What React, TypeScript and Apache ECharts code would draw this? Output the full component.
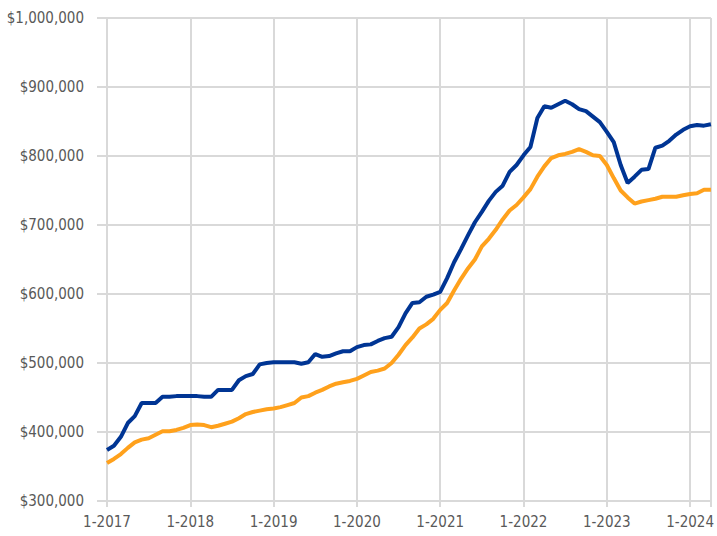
import React, { useEffect, useRef } from "react";
import * as echarts from "echarts";

const years = [2017, 2018, 2019, 2020, 2021, 2022, 2023, 2024];
const months: string[] = [];
years.forEach((y) => {
  const n = y === 2024 ? 4 : 12;
  for (let m = 1; m <= n; m++) months.push(`${m}-${y}`);
});

const blueSeries = [
  374000, 380000, 393000, 413000, 423000, 442000, 442000, 442000, 451000, 451000, 452000, 452000,
  452000, 452000, 451000, 451000, 461000, 461000, 461000, 475000, 481000, 484000, 498000, 500000,
  501000, 501000, 501000, 501000, 499000, 501000, 513000, 509000, 510000, 514000, 517000, 517000,
  523000, 526000, 527000, 532000, 536000, 538000, 552000, 572000, 587000, 588000, 596000, 599000,
  603000, 623000, 646000, 665000, 685000, 704000, 719000, 735000, 748000, 757000, 777000, 787000,
  801000, 813000, 855000, 872000, 870000, 875000, 880000, 875000, 868000, 865000, 857000, 849000,
  835000, 820000, 787000, 761000, 770000, 780000, 781000, 812000, 815000, 822000, 831000, 838000,
  843000, 845000, 844000, 846000,
];

const orangeSeries = [
  355000, 361000, 368000, 377000, 385000, 389000, 391000, 396000, 401000, 401000, 403000, 406000,
  410000, 411000, 410000, 407000, 409000, 412000, 415000, 420000, 426000, 429000, 431000, 433000,
  434000, 436000, 439000, 442000, 450000, 452000, 457000, 461000, 466000, 470000, 472000, 474000,
  477000, 482000, 487000, 489000, 492000, 500000, 512000, 526000, 537000, 550000, 556000, 564000,
  577000, 587000, 605000, 622000, 637000, 650000, 669000, 680000, 693000, 708000, 721000, 729000,
  740000, 752000, 770000, 785000, 797000, 801000, 803000, 806000, 810000, 806000, 801000, 800000,
  787000, 768000, 750000, 740000, 731000, 734000, 736000, 738000, 741000, 741000, 741000, 743000,
  745000, 746000, 751000, 751000,
];

const yTicks = { min: 300000, max: 1000000, interval: 100000 };

export default function App() {
  const ref = useRef<HTMLDivElement>(null);
  useEffect(() => {
    if (!ref.current) return;
    const chart = echarts.init(ref.current, undefined, { renderer: "svg" });
    const last = months.length - 1;
    const fontFamily = "'DejaVu Sans Condensed', 'Open Sans', sans-serif";
    chart.setOption({
      animation: false,
      backgroundColor: "#ffffff",
      grid: { left: 107, right: 2, top: 18, bottom: 35, containLabel: false },
      xAxis: {
        type: "category",
        data: months,
        boundaryGap: false,
        axisLine: { show: true, lineStyle: { color: "#d9d9d9", width: 2 } },
        axisTick: {
          show: true,
          length: 6,
          interval: (i: number) => i % 12 === 0 || i === last,
          lineStyle: { color: "#d9d9d9", width: 2 },
        },
        axisLabel: {
          interval: (i: number) => i % 12 === 0,
          color: "#595959",
          fontSize: 15,
          fontFamily,
          margin: 13,
        },
        splitLine: {
          show: true,
          interval: (i: number) => i % 12 === 0 || i === last,
          lineStyle: { color: "#d9d9d9", width: 2 },
        },
      },
      yAxis: {
        type: "value",
        min: yTicks.min,
        max: yTicks.max,
        interval: yTicks.interval,
        axisLine: { show: false },
        axisTick: { show: true, length: 10, lineStyle: { color: "#d9d9d9", width: 2 } },
        axisLabel: {
          color: "#595959",
          fontSize: 15,
          fontFamily,
          margin: 23,
          formatter: (v: number) => "$" + v.toLocaleString("en-US"),
        },
        splitLine: { show: true, lineStyle: { color: "#d9d9d9", width: 2 } },
      },
      series: [
        {
          type: "line",
          data: orangeSeries,
          showSymbol: false,
          lineStyle: { color: "#FFA11C", width: 4 },
          itemStyle: { color: "#FFA11C" },
        },
        {
          type: "line",
          data: blueSeries,
          showSymbol: false,
          lineStyle: { color: "#003594", width: 4 },
          itemStyle: { color: "#003594" },
        },
      ],
    });
    return () => chart.dispose();
  }, []);
  return <div ref={ref} style={{ width: 717, height: 536, position: "absolute", left: 0, top: 0 }} />;
}
